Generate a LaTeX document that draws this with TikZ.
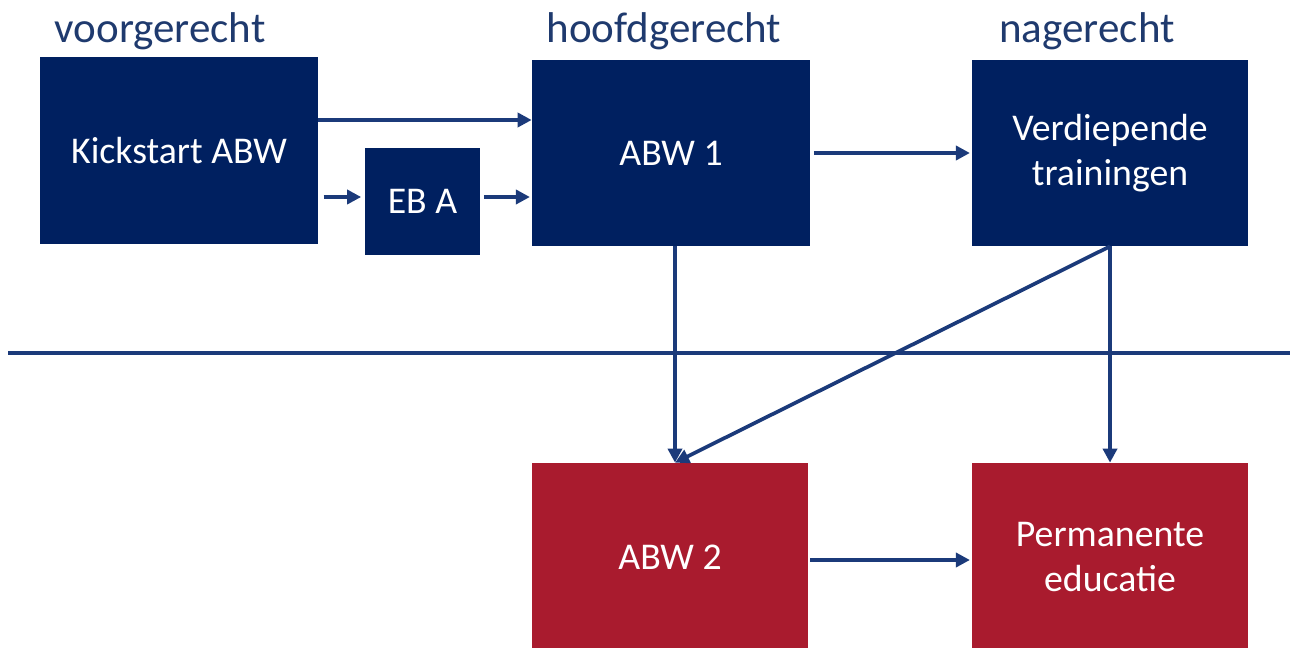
\documentclass[tikz,border=0pt]{standalone}
\usepackage{fontspec}
\setmainfont{Carlito}
\usetikzlibrary{arrows.meta}
\definecolor{navy}{HTML}{002060}
\definecolor{wine}{HTML}{A91B2E}
\definecolor{titlec}{HTML}{1F3A6E}
\definecolor{linec}{HTML}{1B3A7A}
\begin{document}
\begin{tikzpicture}[x=0.02cm,y=-0.02cm,
  box/.style={rectangle, fill=navy, text=white, font=\fontsize{21.5}{25.5}\selectfont, align=center, inner sep=0pt},
  rbox/.style={box, fill=wine},
  ttl/.style={text=titlec, font=\fontsize{24.5}{29}\selectfont, inner sep=0pt},
  arr/.style={draw=linec, line width=2.1pt, -{Triangle[length=8pt,width=8pt]}},
  hline/.style={draw=linec, line width=2.1pt}]
\useasboundingbox (0,0) rectangle (1290,648);
\node[ttl] (t1) at (160,31) {voorgerecht};
\node[ttl] (t2) at (664,31) {hoofdgerecht};
\node[ttl] (t3) at (1087,31) {nagerecht};
\node[box, minimum width=5.56cm, minimum height=3.74cm] (ks) at (179,150.5) {Kickstart ABW};
\node[box, minimum width=2.3cm, minimum height=2.14cm] (eba) at (422.5,201.5) {EB A};
\node[box, minimum width=5.56cm, minimum height=3.72cm] (abw1) at (671,153) {ABW 1};
\node[box, minimum width=5.52cm, minimum height=3.72cm] (verd) at (1110,153) {Verdiepende\\trainingen};
\node[rbox, minimum width=5.52cm, minimum height=3.76cm] (abw2) at (670,557) {ABW 2};
\node[rbox, minimum width=5.52cm, minimum height=3.76cm] (perm) at (1110,557) {Permanente\\educatie};
\coordinate (la) at (8,353);
\coordinate (lb) at (1290,353);
\draw[hline] (la) -- (lb);
\draw[arr] (ks.east |- 0,120) -- (abw1.west |- 0,120);
\draw[arr] ([xshift=3pt]ks.east |- 0,197) -- ([xshift=-2pt]eba.west |- 0,197);
\draw[arr] ([xshift=2pt]eba.east |- 0,197) -- ([xshift=-1pt]abw1.west |- 0,197);
\draw[arr] ([xshift=2pt]abw1.east) -- ([xshift=-1pt]verd.west);
\draw[arr] (abw1.south -| 675,0) -- (abw2.north -| 675,0);
\draw[arr] (verd.south) -- (abw2.north -| 675,0);
\draw[arr] (verd.south) -- (perm.north);
\draw[arr] ([xshift=1pt]abw2.east |- 0,560) -- ([xshift=-1pt]perm.west |- 0,560);
\end{tikzpicture}
\end{document}
